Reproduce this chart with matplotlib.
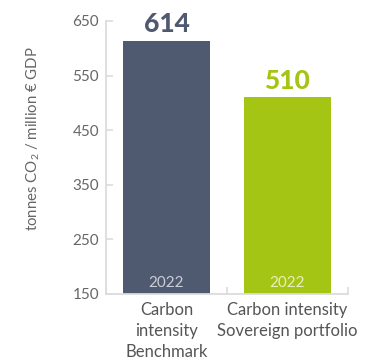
import matplotlib
matplotlib.use("Agg")
import matplotlib.pyplot as plt

categories = ["Carbon\nintensity\nBenchmark", "Carbon intensity\nSovereign portfolio"]
values = [614, 510]
years = ["2022", "2022"]
yticks = [150, 250, 350, 450, 550, 650]

bar_colors = ["#4f5a70", "#a5c514"]
year_colors = ["#c9ced8", "#e6efc0"]
axis_gray = "#dcdcdc"
text_gray = "#555555"

plt.rcParams["font.family"] = ["Lato", "DejaVu Sans"]
plt.rcParams["mathtext.fontset"] = "custom"
plt.rcParams["mathtext.rm"] = "Lato"
plt.rcParams["mathtext.it"] = "Lato"

fig = plt.figure(figsize=(3.67, 3.61), dpi=100)
ax = fig.add_axes([0.289, 0.186, 0.659, 0.756])

x = list(range(len(values)))
bars = ax.bar(x, [v - yticks[0] for v in values], bottom=yticks[0], width=0.72,
              color=bar_colors, zorder=2)

ax.set_xlim(-0.5, 1.5)
ax.set_ylim(yticks[0], yticks[-1])
ax.set_yticks(yticks)
ax.set_yticklabels([str(t) for t in yticks], fontsize=11, color="#666666")

ax.set_xticks(x)
ax.set_xticklabels(categories, fontsize=12, color=text_gray, linespacing=1.38)
ax.tick_params(axis="x", which="major", length=0, pad=6)
ax.set_xticks([-0.5, 0.5, 1.5], minor=True)
ax.tick_params(axis="x", which="minor", direction="in", length=5, width=1.2, color=axis_gray)
ax.tick_params(axis="y", direction="in", length=5, width=1.2, color=axis_gray, pad=5)

for side in ["top", "right"]:
    ax.spines[side].set_visible(False)
for side in ["left", "bottom"]:
    ax.spines[side].set_color(axis_gray)
    ax.spines[side].set_linewidth(1.3)

ax.set_ylabel("tonnes CO$_2$ / million € GDP", fontsize=10.8, color="#666666")
ax.yaxis.set_label_coords(-0.265, 0.57)

for xi, v, c, yr, yc in zip(x, values, bar_colors, years, year_colors):
    ax.annotate(f"{v}", (xi, v), xytext=(0, 3), textcoords="offset points",
                ha="center", va="bottom", fontsize=19, fontweight="black", color=c)
    ax.annotate(yr, (xi, yticks[0]), xytext=(0, 3), textcoords="offset points",
                ha="center", va="bottom", fontsize=11, color=yc)

fig.savefig("out.png", dpi=100)
